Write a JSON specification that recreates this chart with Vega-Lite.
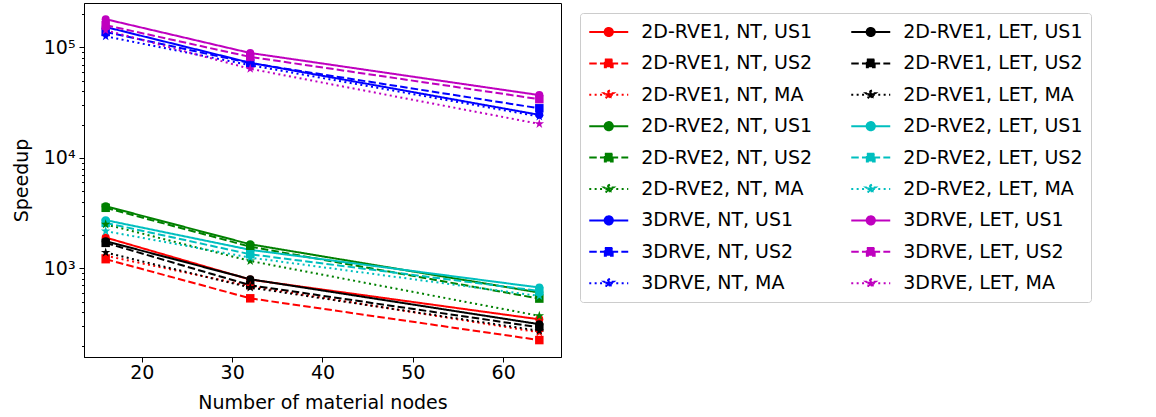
{
  "$schema": "https://vega.github.io/schema/vega-lite/v6.json",
  "width": 477,
  "height": 354,
  "autosize": {"type": "none"},
  "padding": {"left": 84, "top": 3, "right": 595, "bottom": 60},
  "background": "#ffffff",
  "config": {
    "font": "DejaVu Sans",
    "view": {"stroke": "#000000", "strokeWidth": 1},
    "axis": {
      "labelFont": "DejaVu Sans", "labelFontSize": 19, "labelColor": "#000000",
      "titleFont": "DejaVu Sans", "titleFontSize": 19, "titleFontWeight": "normal", "titleColor": "#000000",
      "domainColor": "#000000", "tickColor": "#000000", "tickWidth": 1, "grid": false
    },
    "legend": {
      "orient": "none", "legendX": 496, "legendY": 10, "columns": 2, "title": null,
      "labelFont": "DejaVu Sans", "labelFontSize": 19, "labelColor": "#000000", "labelLimit": 400,
      "symbolSize": 380, "symbolStrokeWidth": 2, "symbolOffset": 9.75, "labelOffset": 21.5,
      "rowPadding": 10.4, "columnPadding": 34, "padding": 8,
      "strokeColor": "#cccccc", "fillColor": "#ffffff", "cornerRadius": 3
    }
  },
  "data": {"values": [
    {"series": "2D-RVE1, NT, US1", "nodes": 16, "speedup": 1900}, {"series": "2D-RVE1, NT, US1", "nodes": 32, "speedup": 790}, {"series": "2D-RVE1, NT, US1", "nodes": 64, "speedup": 345},
    {"series": "2D-RVE1, NT, US2", "nodes": 16, "speedup": 1210}, {"series": "2D-RVE1, NT, US2", "nodes": 32, "speedup": 535}, {"series": "2D-RVE1, NT, US2", "nodes": 64, "speedup": 224},
    {"series": "2D-RVE1, NT, MA", "nodes": 16, "speedup": 1300}, {"series": "2D-RVE1, NT, MA", "nodes": 32, "speedup": 690}, {"series": "2D-RVE1, NT, MA", "nodes": 64, "speedup": 263},
    {"series": "2D-RVE2, NT, US1", "nodes": 16, "speedup": 3650}, {"series": "2D-RVE2, NT, US1", "nodes": 32, "speedup": 1650}, {"series": "2D-RVE2, NT, US1", "nodes": 64, "speedup": 603},
    {"series": "2D-RVE2, NT, US2", "nodes": 16, "speedup": 3530}, {"series": "2D-RVE2, NT, US2", "nodes": 32, "speedup": 1570}, {"series": "2D-RVE2, NT, US2", "nodes": 64, "speedup": 532},
    {"series": "2D-RVE2, NT, MA", "nodes": 16, "speedup": 2500}, {"series": "2D-RVE2, NT, MA", "nodes": 32, "speedup": 1165}, {"series": "2D-RVE2, NT, MA", "nodes": 64, "speedup": 371},
    {"series": "3DRVE, NT, US1", "nodes": 16, "speedup": 153000}, {"series": "3DRVE, NT, US1", "nodes": 32, "speedup": 72600}, {"series": "3DRVE, NT, US1", "nodes": 64, "speedup": 24500},
    {"series": "3DRVE, NT, US2", "nodes": 16, "speedup": 138000}, {"series": "3DRVE, NT, US2", "nodes": 32, "speedup": 72000}, {"series": "3DRVE, NT, US2", "nodes": 64, "speedup": 28100},
    {"series": "3DRVE, NT, MA", "nodes": 16, "speedup": 126000}, {"series": "3DRVE, NT, MA", "nodes": 32, "speedup": 69000}, {"series": "3DRVE, NT, MA", "nodes": 64, "speedup": 23700},
    {"series": "2D-RVE1, LET, US1", "nodes": 16, "speedup": 1760}, {"series": "2D-RVE1, LET, US1", "nodes": 32, "speedup": 796}, {"series": "2D-RVE1, LET, US1", "nodes": 64, "speedup": 312},
    {"series": "2D-RVE1, LET, US2", "nodes": 16, "speedup": 1700}, {"series": "2D-RVE1, LET, US2", "nodes": 32, "speedup": 703}, {"series": "2D-RVE1, LET, US2", "nodes": 64, "speedup": 292},
    {"series": "2D-RVE1, LET, MA", "nodes": 16, "speedup": 1390}, {"series": "2D-RVE1, LET, MA", "nodes": 32, "speedup": 670}, {"series": "2D-RVE1, LET, MA", "nodes": 64, "speedup": 272},
    {"series": "2D-RVE2, LET, US1", "nodes": 16, "speedup": 2730}, {"series": "2D-RVE2, LET, US1", "nodes": 32, "speedup": 1470}, {"series": "2D-RVE2, LET, US1", "nodes": 64, "speedup": 670},
    {"series": "2D-RVE2, LET, US2", "nodes": 16, "speedup": 2580}, {"series": "2D-RVE2, LET, US2", "nodes": 32, "speedup": 1340}, {"series": "2D-RVE2, LET, US2", "nodes": 64, "speedup": 624},
    {"series": "2D-RVE2, LET, MA", "nodes": 16, "speedup": 2170}, {"series": "2D-RVE2, LET, MA", "nodes": 32, "speedup": 1250}, {"series": "2D-RVE2, LET, MA", "nodes": 64, "speedup": 562},
    {"series": "3DRVE, LET, US1", "nodes": 16, "speedup": 180000}, {"series": "3DRVE, LET, US1", "nodes": 32, "speedup": 89000}, {"series": "3DRVE, LET, US1", "nodes": 64, "speedup": 37000},
    {"series": "3DRVE, LET, US2", "nodes": 16, "speedup": 159000}, {"series": "3DRVE, LET, US2", "nodes": 32, "speedup": 82000}, {"series": "3DRVE, LET, US2", "nodes": 64, "speedup": 34000},
    {"series": "3DRVE, LET, MA", "nodes": 16, "speedup": 143000}, {"series": "3DRVE, LET, MA", "nodes": 32, "speedup": 64000}, {"series": "3DRVE, LET, MA", "nodes": 64, "speedup": 20300}
  ]},
  "encoding": {
    "x": {
      "field": "nodes", "type": "quantitative",
      "scale": {"domain": [13.6, 66.4], "nice": false, "zero": false},
      "axis": {"title": "Number of material nodes", "values": [20, 30, 40, 50, 60], "tickSize": 5, "labelPadding": 1, "titlePadding": 11, "labelFlush": false}
    },
    "y": {
      "field": "speedup", "type": "quantitative",
      "scale": {"type": "log", "domain": [157.4, 252350], "nice": false},
      "axis": {
        "title": "Speedup", "titlePadding": 12, "labelPadding": 4,
        "values": [200, 300, 400, 500, 600, 700, 800, 900, 1000, 2000, 3000, 4000, 5000, 6000, 7000, 8000, 9000, 10000, 20000, 30000, 40000, 50000, 60000, 70000, 80000, 90000, 100000, 200000],
        "labelExpr": "datum.value == 1000 ? '10³' : datum.value == 10000 ? '10⁴' : datum.value == 100000 ? '10⁵' : ''",
        "tickSize": {"condition": {"test": "datum.value == 1000 || datum.value == 10000 || datum.value == 100000", "value": 5}, "value": 2.5},
        "labelFlush": false, "labelOverlap": false
      }
    },
    "color": {
      "field": "series", "type": "nominal",
      "scale": {
        "domain": ["2D-RVE1, NT, US1", "2D-RVE1, NT, US2", "2D-RVE1, NT, MA", "2D-RVE2, NT, US1", "2D-RVE2, NT, US2", "2D-RVE2, NT, MA", "3DRVE, NT, US1", "3DRVE, NT, US2", "3DRVE, NT, MA", "2D-RVE1, LET, US1", "2D-RVE1, LET, US2", "2D-RVE1, LET, MA", "2D-RVE2, LET, US1", "2D-RVE2, LET, US2", "2D-RVE2, LET, MA", "3DRVE, LET, US1", "3DRVE, LET, US2", "3DRVE, LET, MA"],
        "range": ["#ff0000", "#ff0000", "#ff0000", "#008000", "#008000", "#008000", "#0000ff", "#0000ff", "#0000ff", "#000000", "#000000", "#000000", "#00bfbf", "#00bfbf", "#00bfbf", "#bf00bf", "#bf00bf", "#bf00bf"]
      },
      "legend": null
    }
  },
  "layer": [
    {
      "data": {"values": []},
      "mark": {"type": "point", "filled": true, "opacity": 1},
      "encoding": {
        "color": {
          "field": "series", "type": "nominal",
          "scale": {
            "domain": ["2D-RVE1, NT, US1", "2D-RVE1, NT, US2", "2D-RVE1, NT, MA", "2D-RVE2, NT, US1", "2D-RVE2, NT, US2", "2D-RVE2, NT, MA", "3DRVE, NT, US1", "3DRVE, NT, US2", "3DRVE, NT, MA", "2D-RVE1, LET, US1", "2D-RVE1, LET, US2", "2D-RVE1, LET, MA", "2D-RVE2, LET, US1", "2D-RVE2, LET, US2", "2D-RVE2, LET, MA", "3DRVE, LET, US1", "3DRVE, LET, US2", "3DRVE, LET, MA"],
            "range": ["#ff0000", "#ff0000", "#ff0000", "#008000", "#008000", "#008000", "#0000ff", "#0000ff", "#0000ff", "#000000", "#000000", "#000000", "#00bfbf", "#00bfbf", "#00bfbf", "#bf00bf", "#bf00bf", "#bf00bf"]
          },
          "legend": {"title": null}
        },
        "stroke": {
          "field": "series", "type": "nominal",
          "scale": {
            "domain": ["2D-RVE1, NT, US1", "2D-RVE1, NT, US2", "2D-RVE1, NT, MA", "2D-RVE2, NT, US1", "2D-RVE2, NT, US2", "2D-RVE2, NT, MA", "3DRVE, NT, US1", "3DRVE, NT, US2", "3DRVE, NT, MA", "2D-RVE1, LET, US1", "2D-RVE1, LET, US2", "2D-RVE1, LET, MA", "2D-RVE2, LET, US1", "2D-RVE2, LET, US2", "2D-RVE2, LET, MA", "3DRVE, LET, US1", "3DRVE, LET, US2", "3DRVE, LET, MA"],
            "range": ["#ff0000", "#ff0000", "#ff0000", "#008000", "#008000", "#008000", "#0000ff", "#0000ff", "#0000ff", "#000000", "#000000", "#000000", "#00bfbf", "#00bfbf", "#00bfbf", "#bf00bf", "#bf00bf", "#bf00bf"]
          },
          "legend": {"title": null}
        },
        "shape": {
          "field": "series", "type": "nominal",
          "scale": {
            "domain": ["2D-RVE1, NT, US1", "2D-RVE1, NT, US2", "2D-RVE1, NT, MA", "2D-RVE2, NT, US1", "2D-RVE2, NT, US2", "2D-RVE2, NT, MA", "3DRVE, NT, US1", "3DRVE, NT, US2", "3DRVE, NT, MA", "2D-RVE1, LET, US1", "2D-RVE1, LET, US2", "2D-RVE1, LET, MA", "2D-RVE2, LET, US1", "2D-RVE2, LET, US2", "2D-RVE2, LET, MA", "3DRVE, LET, US1", "3DRVE, LET, US2", "3DRVE, LET, MA"],
            "range": [
              "M-2,0H2M0.42,0A0.42,0.42,0,1,1,-0.42,0A0.42,0.42,0,1,1,0.42,0Z",
              "M-2,0H2M-0.4,-0.4H0.4V0.4H-0.4Z",
              "M-2,0H2M0,-0.5L0.1123,-0.1545L0.4755,-0.1545L0.1816,0.059L0.2939,0.4045L0,0.191L-0.2939,0.4045L-0.1816,0.059L-0.4755,-0.1545L-0.1123,-0.1545Z",
              "M-2,0H2M0.42,0A0.42,0.42,0,1,1,-0.42,0A0.42,0.42,0,1,1,0.42,0Z",
              "M-2,0H2M-0.4,-0.4H0.4V0.4H-0.4Z",
              "M-2,0H2M0,-0.5L0.1123,-0.1545L0.4755,-0.1545L0.1816,0.059L0.2939,0.4045L0,0.191L-0.2939,0.4045L-0.1816,0.059L-0.4755,-0.1545L-0.1123,-0.1545Z",
              "M-2,0H2M0.42,0A0.42,0.42,0,1,1,-0.42,0A0.42,0.42,0,1,1,0.42,0Z",
              "M-2,0H2M-0.4,-0.4H0.4V0.4H-0.4Z",
              "M-2,0H2M0,-0.5L0.1123,-0.1545L0.4755,-0.1545L0.1816,0.059L0.2939,0.4045L0,0.191L-0.2939,0.4045L-0.1816,0.059L-0.4755,-0.1545L-0.1123,-0.1545Z",
              "M-2,0H2M0.42,0A0.42,0.42,0,1,1,-0.42,0A0.42,0.42,0,1,1,0.42,0Z",
              "M-2,0H2M-0.4,-0.4H0.4V0.4H-0.4Z",
              "M-2,0H2M0,-0.5L0.1123,-0.1545L0.4755,-0.1545L0.1816,0.059L0.2939,0.4045L0,0.191L-0.2939,0.4045L-0.1816,0.059L-0.4755,-0.1545L-0.1123,-0.1545Z",
              "M-2,0H2M0.42,0A0.42,0.42,0,1,1,-0.42,0A0.42,0.42,0,1,1,0.42,0Z",
              "M-2,0H2M-0.4,-0.4H0.4V0.4H-0.4Z",
              "M-2,0H2M0,-0.5L0.1123,-0.1545L0.4755,-0.1545L0.1816,0.059L0.2939,0.4045L0,0.191L-0.2939,0.4045L-0.1816,0.059L-0.4755,-0.1545L-0.1123,-0.1545Z",
              "M-2,0H2M0.42,0A0.42,0.42,0,1,1,-0.42,0A0.42,0.42,0,1,1,0.42,0Z",
              "M-2,0H2M-0.4,-0.4H0.4V0.4H-0.4Z",
              "M-2,0H2M0,-0.5L0.1123,-0.1545L0.4755,-0.1545L0.1816,0.059L0.2939,0.4045L0,0.191L-0.2939,0.4045L-0.1816,0.059L-0.4755,-0.1545L-0.1123,-0.1545Z"
            ]
          },
          "legend": {"title": null}
        },
        "strokeDash": {
          "field": "series", "type": "nominal",
          "scale": {
            "domain": ["2D-RVE1, NT, US1", "2D-RVE1, NT, US2", "2D-RVE1, NT, MA", "2D-RVE2, NT, US1", "2D-RVE2, NT, US2", "2D-RVE2, NT, MA", "3DRVE, NT, US1", "3DRVE, NT, US2", "3DRVE, NT, MA", "2D-RVE1, LET, US1", "2D-RVE1, LET, US2", "2D-RVE1, LET, MA", "2D-RVE2, LET, US1", "2D-RVE2, LET, US2", "2D-RVE2, LET, MA", "3DRVE, LET, US1", "3DRVE, LET, US2", "3DRVE, LET, MA"],
            "range": [[1, 0], [7.5, 3.2], [2, 3.4], [1, 0], [7.5, 3.2], [2, 3.4], [1, 0], [7.5, 3.2], [2, 3.4], [1, 0], [7.5, 3.2], [2, 3.4], [1, 0], [7.5, 3.2], [2, 3.4], [1, 0], [7.5, 3.2], [2, 3.4]]
          },
          "legend": {"title": null}
        }
      }
    },
    {
      "mark": {"type": "line", "strokeWidth": 2, "strokeCap": "butt"},
      "encoding": {
        "strokeDash": {
          "field": "series", "type": "nominal",
          "scale": {
            "domain": ["2D-RVE1, NT, US1", "2D-RVE1, NT, US2", "2D-RVE1, NT, MA", "2D-RVE2, NT, US1", "2D-RVE2, NT, US2", "2D-RVE2, NT, MA", "3DRVE, NT, US1", "3DRVE, NT, US2", "3DRVE, NT, MA", "2D-RVE1, LET, US1", "2D-RVE1, LET, US2", "2D-RVE1, LET, MA", "2D-RVE2, LET, US1", "2D-RVE2, LET, US2", "2D-RVE2, LET, MA", "3DRVE, LET, US1", "3DRVE, LET, US2", "3DRVE, LET, MA"],
            "range": [[1, 0], [7.5, 3.2], [2, 3.4], [1, 0], [7.5, 3.2], [2, 3.4], [1, 0], [7.5, 3.2], [2, 3.4], [1, 0], [7.5, 3.2], [2, 3.4], [1, 0], [7.5, 3.2], [2, 3.4], [1, 0], [7.5, 3.2], [2, 3.4]]
          },
          "legend": null
        }
      }
    },
    {
      "transform": [{"filter": "indexof(datum.series, 'US1') >= 0"}],
      "mark": {"type": "point", "shape": "circle", "filled": true, "size": 64, "opacity": 1}
    },
    {
      "transform": [{"filter": "indexof(datum.series, 'US2') >= 0"}],
      "mark": {"type": "point", "shape": "square", "filled": true, "size": 72, "opacity": 1}
    },
    {
      "transform": [{"filter": "indexof(datum.series, 'MA') >= 0"}],
      "mark": {"type": "point", "shape": "M0,-1L0.2245,-0.309L0.9511,-0.309L0.3633,0.118L0.5878,0.809L0,0.382L-0.5878,0.809L-0.3633,0.118L-0.9511,-0.309L-0.2245,-0.309Z", "filled": true, "size": 100, "opacity": 1}
    }
  ]
}
